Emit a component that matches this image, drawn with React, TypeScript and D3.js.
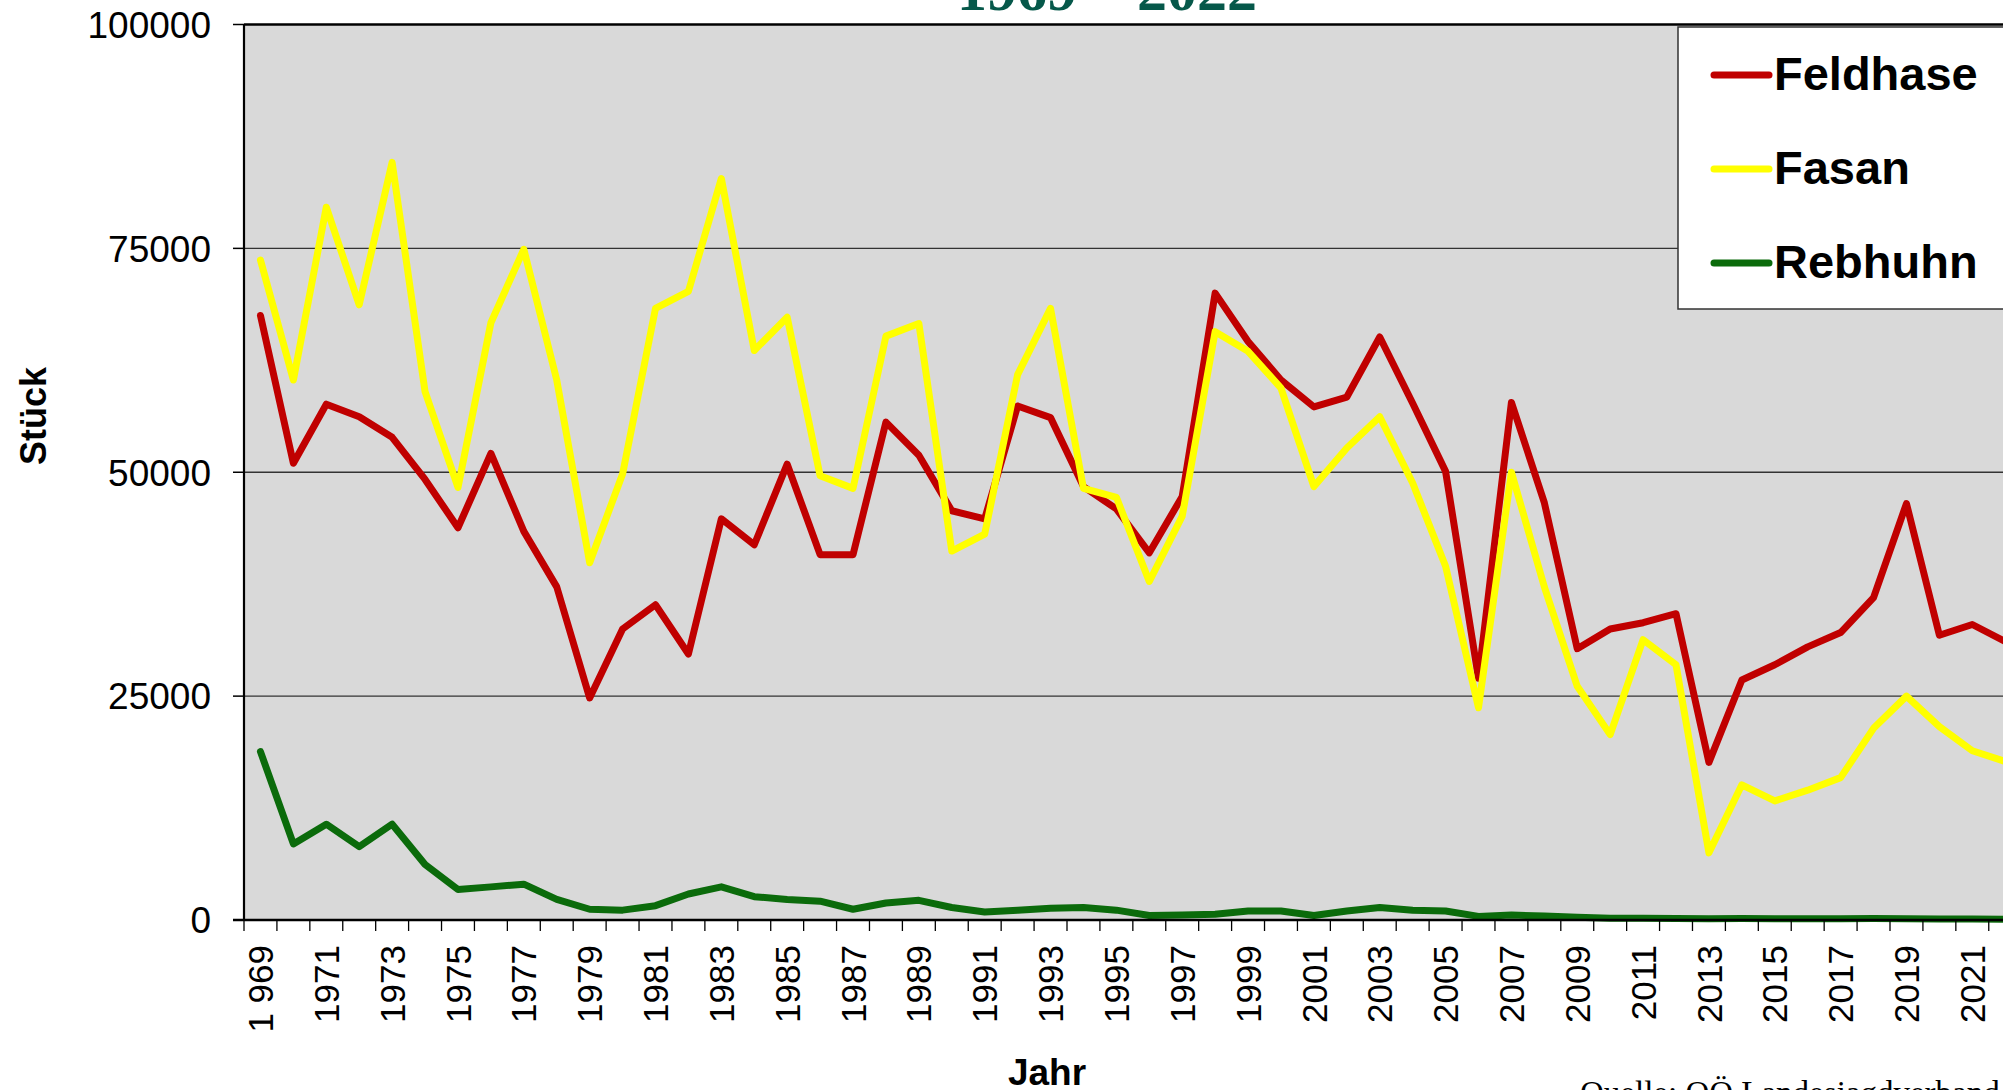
import React from "react";
import * as d3 from "d3";

const years: number[] = Array.from({ length: 54 }, (_, i) => 1969 + i);

const feldhase: number[] = [
  67500, 51000, 57600, 56200, 53900, 49200, 43800, 52100, 43400, 37200,
  24800, 32500, 35200, 29700, 44800, 41900, 50900, 40800, 40800, 55600,
  51900, 45700, 44800, 57400, 56100, 48400, 45900, 41000, 47300, 70000,
  64600, 60300, 57300, 58400, 65100, 57700, 50100, 27000, 57800, 46600,
  30300, 32500, 33200, 34200, 17600, 26800, 28500, 30500, 32100, 36000,
  46500, 31800, 33000, 31100,
];

const fasan: number[] = [
  73700, 60300, 79600, 68700, 84600, 59000, 48300, 66700, 74900, 60300,
  39900, 49800, 68300, 70200, 82800, 63600, 67300, 49600, 48200, 65200,
  66600, 41200, 43100, 60900, 68300, 48200, 47200, 37800, 45100, 65700,
  63500, 59400, 48400, 52700, 56200, 48800, 39500, 23700, 50000, 37200,
  26100, 20700, 31300, 28500, 7500, 15100, 13300, 14500, 15900, 21400,
  25000, 21600, 18900, 17700,
];

const rebhuhn: number[] = [
  18800, 8500, 10700, 8200, 10700, 6200, 3400, 3700, 4000, 2300,
  1200, 1100, 1600, 2900, 3700, 2600, 2300, 2100, 1200, 1900,
  2200, 1400, 900, 1100, 1300, 1400, 1100, 500, 550, 650,
  1000, 1000, 500, 1000, 1400, 1100, 1000, 400, 550, 450,
  300, 200, 200, 180, 150, 170, 150, 150, 140, 160,
  150, 120, 100, 90,
];

const yTicks: number[] = [0, 25000, 50000, 75000, 100000];

const seriesNames: string[] = ["Feldhase", "Fasan", "Rebhuhn"];
const seriesColors: string[] = ["#c00000", "#ffff00", "#0b6b0b"];
const seriesData: number[][] = [feldhase, fasan, rebhuhn];

const titleText = "1969 – 2022";
const xTitle = "Jahr";
const yTitle = "Stück";
const sourceText = "Quelle: OÖ Landesjagdverband";

const W = 2003;
const H = 1090;

export default function App() {
  const left = 244;
  const bandW = 32.92;
  const right = left + bandW * years.length;
  const top = 24.5;
  const bottom = 920;

  const x = d3
    .scaleBand<number>()
    .domain(years)
    .range([left, right])
    .paddingInner(0)
    .paddingOuter(0);
  const y = d3.scaleLinear().domain([0, 100000]).range([bottom, top]);

  const line = d3
    .line<number>()
    .x((_, i) => (x(years[i]) as number) + x.bandwidth() / 2)
    .y((d) => y(d));

  const labelFmt = (yr: number, i: number) =>
    i === 0 ? d3.format(",")(yr).replace(",", " ") : String(yr);

  const sans = "Liberation Sans, Arial, sans-serif";

  return (
    <svg
      width={W}
      height={H}
      style={{ position: "absolute", left: 0, top: 0, background: "#fff" }}
    >
      {/* title (cut off at top) */}
      <text
        x={1107}
        y={10}
        textAnchor="middle"
        fontFamily="Liberation Serif, Times New Roman, serif"
        fontWeight="bold"
        fontSize={60}
        fill="#06584a"
      >
        {titleText}
      </text>

      {/* plot background */}
      <rect x={left} y={top} width={right - left} height={bottom - top} fill="#d9d9d9" />

      {/* gridlines */}
      {yTicks
        .filter((t) => t !== 0 && t !== 100000)
        .map((t) => (
          <line
            key={"g" + t}
            x1={left}
            x2={right}
            y1={y(t)}
            y2={y(t)}
            stroke="#333"
            strokeWidth={1.3}
          />
        ))}

      {/* series lines */}
      {seriesData.map((s, k) => (
        <path
          key={seriesNames[k]}
          d={line(s) || ""}
          fill="none"
          stroke={seriesColors[k]}
          strokeWidth={7}
          strokeLinejoin="round"
          strokeLinecap="round"
        />
      ))}

      {/* frame: top border, left axis, bottom axis */}
      <line x1={left} x2={right} y1={top} y2={top} stroke="#000" strokeWidth={2.5} />
      <line x1={left} x2={left} y1={top} y2={bottom} stroke="#000" strokeWidth={2.2} />
      <line x1={233} x2={right} y1={bottom} y2={bottom} stroke="#000" strokeWidth={2.5} />

      {/* y ticks and labels */}
      {yTicks.map((t) => (
        <g key={"yt" + t}>
          <line x1={233} x2={left} y1={y(t)} y2={y(t)} stroke="#000" strokeWidth={1.5} />
          <text
            x={211}
            y={y(t)}
            dy="0.36em"
            textAnchor="end"
            fontFamily={sans}
            fontSize={37}
            fill="#000"
          >
            {t}
          </text>
        </g>
      ))}

      {/* x ticks */}
      {years.concat([years[years.length - 1] + 1]).map((yr, i) => {
        const xx = left + i * x.bandwidth();
        return (
          <line
            key={"xt" + yr}
            x1={xx}
            x2={xx}
            y1={bottom}
            y2={bottom + 11}
            stroke="#000"
            strokeWidth={1.3}
          />
        );
      })}

      {/* x labels */}
      {years.map((yr, i) =>
        i % 2 === 0 ? (
          <text
            key={"xl" + yr}
            transform={`translate(${(x(yr) as number) + x.bandwidth() / 2},945) rotate(-90)`}
            textAnchor="end"
            dy="0.36em"
            fontFamily={sans}
            fontSize={35}
            fill="#000"
          >
            {labelFmt(yr, i)}
          </text>
        ) : null
      )}

      {/* axis titles */}
      <text
        x={1047}
        y={1085}
        textAnchor="middle"
        fontFamily={sans}
        fontWeight="bold"
        fontSize={37}
        fill="#000"
      >
        {xTitle}
      </text>
      <text
        transform="translate(33,416) rotate(-90)"
        textAnchor="middle"
        dy="0.36em"
        fontFamily={sans}
        fontWeight="bold"
        fontSize={36}
        fill="#000"
      >
        {yTitle}
      </text>

      {/* legend */}
      <rect x={1678} y={27} width={340} height={282} fill="#fff" stroke="#333" strokeWidth={1.5} />
      {seriesNames.map((n, k) => (
        <g key={"lg" + n}>
          <line
            x1={1714}
            x2={1769}
            y1={75 + k * 94}
            y2={75 + k * 94}
            stroke={seriesColors[k]}
            strokeWidth={7}
            strokeLinecap="round"
          />
          <text
            x={1774}
            y={90 + k * 94}
            fontFamily={sans}
            fontWeight="bold"
            fontSize={47}
            fill="#000"
          >
            {n}
          </text>
        </g>
      ))}

      {/* source (cut off at bottom) */}
      <text
        x={1580}
        y={1104}
        fontFamily="Liberation Serif, Times New Roman, serif"
        fontSize={33}
        fill="#000"
      >
        {sourceText}
      </text>
    </svg>
  );
}
